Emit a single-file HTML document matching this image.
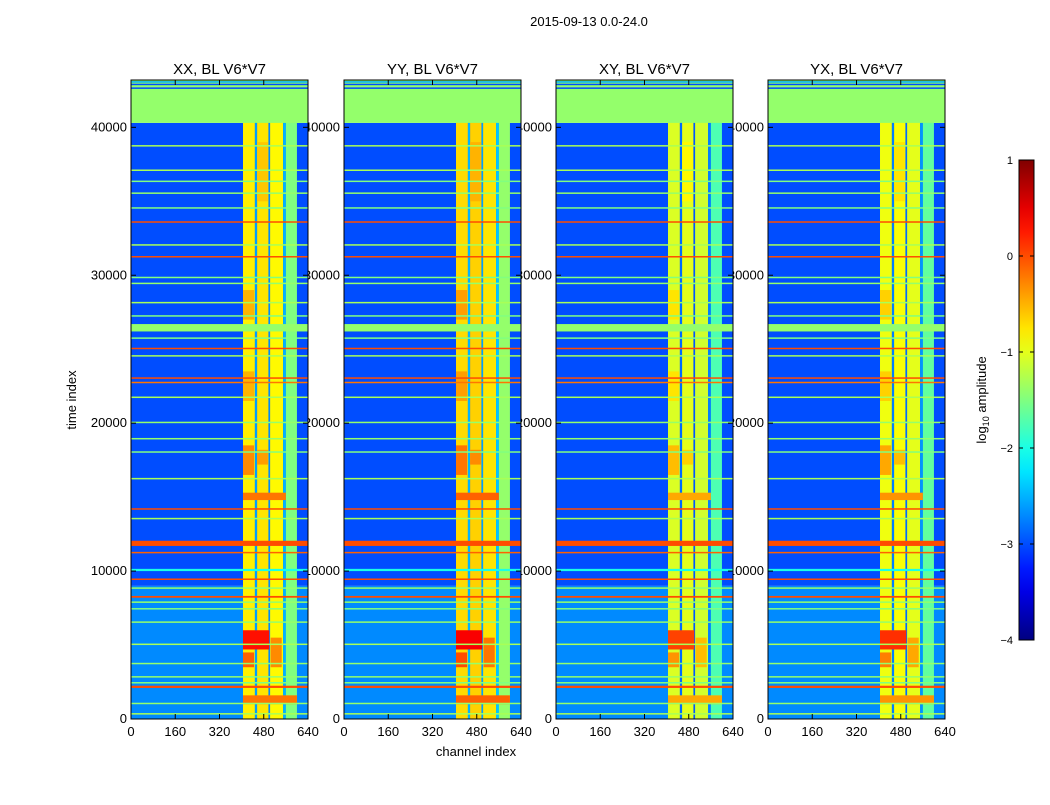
<!DOCTYPE html>
<html><head><meta charset="utf-8"><style>
body{margin:0;background:#fff;}
svg text{font-family:"Liberation Sans",sans-serif;font-size:13px;fill:#000;}
</style></head><body>
<svg id="fig" width="1050" height="800" viewBox="0 0 1050 800" xmlns="http://www.w3.org/2000/svg">
<text x="589" y="26" text-anchor="middle">2015-09-13 0.0-24.0</text>
<text x="476" y="756" text-anchor="middle">channel index</text>
<text x="0" y="0" transform="translate(76,400) rotate(-90)" text-anchor="middle">time index</text>
<g id="labels"></g>
<g id="panels"></g>
<g id="cbar"></g>
</svg>
<script>
// ---- data ----
const panelTitles = ["XX, BL V6*V7","YY, BL V6*V7","XY, BL V6*V7","YX, BL V6*V7"];
const panelOffset = [0.0, 0.1, -0.25, -0.15];
const xTicks = [0,160,320,480,640];
const yTicks = [0,10000,20000,30000,40000];
const cbTicks = [1,0,-1,-2,-3,-4];
// background regions [t0,t1,value]
const bgRegions = [[0,9000,-2.7],[9000,40300,-3.0]];
// channel bands [ch0,ch1,value]
const colBands = [[405,448,-0.8],[448,456,-2.6],[456,497,-0.75],[497,503,-2.7],[503,550,-0.85],[550,560,-2.5],[560,600,-1.5]];
// hot blobs [ch0,ch1,t0,t1,value]
const blobs = [[405,500,4700,6000,0.3],[405,445,3500,4500,-0.1],[505,545,3500,5500,-0.3],[405,445,16500,18500,-0.3],[456,495,17200,18200,-0.4],
 [405,445,21500,23500,-0.5],[405,445,27000,29000,-0.5],[456,495,35000,39000,-0.6],[405,600,1000,1600,-0.2],[405,560,14800,15300,-0.2]];
// full-width row lines [t0,t1,value]
const rowLines = [[40300,43200,-1.4],[42600,42700,-3.0],[42850,42950,-3.0],[43050,43120,-2.5],
 [38700,38800,-1.3],[37050,37150,-1.3],[36300,36400,-1.5],[35500,35600,-1.4],[34500,34600,-1.5],[33550,33650,0],[32000,32100,-1.3],[31200,31300,0],
 [29800,29900,-1.5],[29400,29500,-1.4],[28100,28200,-1.3],[27200,27300,-1.5],[26200,26700,-1.4],[25700,25800,-1.5],[25000,25100,0],
 [24500,24600,-1.3],[23000,23100,0],[22700,22800,-0.2],[21700,21800,-1.3],[20000,20100,-1.4],[18900,19000,-1.4],[18000,18100,-1.5],
 [16200,16300,-1.3],[14150,14250,0],[13500,13600,-1.3],[11700,12050,0],[11200,11300,-0.1],[10000,10150,-2.0],[9400,9500,0],[8800,8900,-1.4],
 [8200,8320,0],[7900,7950,-1.4],[7400,7500,-1.5],[6500,6600,-1.4],[5000,5100,-1.3],[3700,3800,-1.4],[2800,2900,-1.4],[2400,2500,-1.5],[2100,2250,0],[1000,1100,-1.4],[300,400,-1.3]];
// ---- axes ----
const X0s=[131,344,556,768], W=177, yTop=80, yBot=719, TMAX=43200;
const sx=(p,c)=>X0s[p]+c/640*W;
const sy=t=>yBot-t/TMAX*(yBot-yTop);
function jet(v){let x=(v+4)/5;x=Math.max(0,Math.min(1,x));
 const c=a=>Math.round(255*Math.max(0,Math.min(1,1.5-Math.abs(4*x-a))));
 return `rgb(${c(3)},${c(2)},${c(1)})`;}
const NS="http://www.w3.org/2000/svg";
function el(tag,attrs,parent){const e=document.createElementNS(NS,tag);for(const k in attrs)e.setAttribute(k,attrs[k]);parent.appendChild(e);return e;}
const labels=document.getElementById('labels'), panels=document.getElementById('panels');
for(let p=0;p<4;p++){
 for(const t of yTicks){const tx=el('text',{x:X0s[p]-4,y:sy(t)+4,'text-anchor':'end'},labels);tx.textContent=t;
  
  }
}
for(let p=0;p<4;p++){
 const g=el('g',{},panels);
 
 
 const off=panelOffset[p];
 for(const r of bgRegions){const e=el('rect',{x:sx(p,0),y:sy(r[1]),width:W,height:sy(r[0])-sy(r[1]),fill:jet(r[2])},g);
  
  }
 for(const b of colBands){const e=el('rect',{x:sx(p,b[0]),y:yTop,width:sx(p,b[1])-sx(p,b[0]),height:yBot-yTop,fill:jet(b[2]+off)},g);
  
  }
 for(const b of blobs){const e=el('rect',{x:sx(p,b[0]),y:sy(b[3]),width:sx(p,b[1])-sx(p,b[0]),height:sy(b[2])-sy(b[3]),fill:jet(b[4]+off)},g);
  
  }
 for(const r of rowLines){const h=Math.max(1.5,sy(r[0])-sy(r[1]));const e=el('rect',{x:sx(p,0),y:sy(r[1]),width:W,height:h,fill:jet(r[2])},g);
  
  }
 const fr=el('rect',{x:X0s[p],y:yTop,width:W,height:yBot-yTop,fill:'none',stroke:'#000','stroke-width':1},g);
 
 
 for(const c of xTicks){const x=sx(p,c);
  el('line',{x1:x,x2:x,y1:yBot,y2:yBot-5,stroke:'#000'},g);el('line',{x1:x,x2:x,y1:yTop,y2:yTop+5,stroke:'#000'},g);
  const tx=el('text',{x:x,y:yBot+17,'text-anchor':'middle'},g);tx.textContent=c;
  
  }
 for(const t of yTicks){const y=sy(t);
  el('line',{x1:X0s[p],x2:X0s[p]+5,y1:y,y2:y,stroke:'#000'},g);el('line',{x1:X0s[p]+W,x2:X0s[p]+W-5,y1:y,y2:y,stroke:'#000'},g);}
 const ti=el('text',{x:X0s[p]+W/2,y:74,'text-anchor':'middle'},g);ti.textContent=panelTitles[p];
 ti.style.fontSize='15px';
 
 
}
// colorbar
const cb=document.getElementById('cbar');


const cy0=160,cy1=640,cx=1019,cw=15;
const defs=el('defs',{},cb);const lg=el('linearGradient',{id:'jetg',x1:0,y1:1,x2:0,y2:0},defs);
for(let i=0;i<=20;i++){el('stop',{offset:(i/20),'stop-color':jet(-4+5*i/20)},lg);}
el('rect',{x:cx,y:cy0,width:cw,height:cy1-cy0,fill:'url(#jetg)',stroke:'#000'},cb);
for(const v of cbTicks){const y=cy1-(v+4)/5*(cy1-cy0);
 el('line',{x1:cx,x2:cx+4,y1:y,y2:y,stroke:'#000'},cb);el('line',{x1:cx+cw,x2:cx+cw-4,y1:y,y2:y,stroke:'#000'},cb);
 const tx=el('text',{x:1013,y:y+4,'text-anchor':'end'},cb);tx.textContent=(v<0?'\u2212'+(-v):v);
 tx.style.fontSize='11px';
 
 }
const cl=el('text',{transform:'translate(986,400) rotate(-90)','text-anchor':'middle'},cb);
cl.innerHTML='log<tspan font-size="9" dy="3">10</tspan><tspan dy="-3"> amplitude</tspan>';


</script>
</body></html>
